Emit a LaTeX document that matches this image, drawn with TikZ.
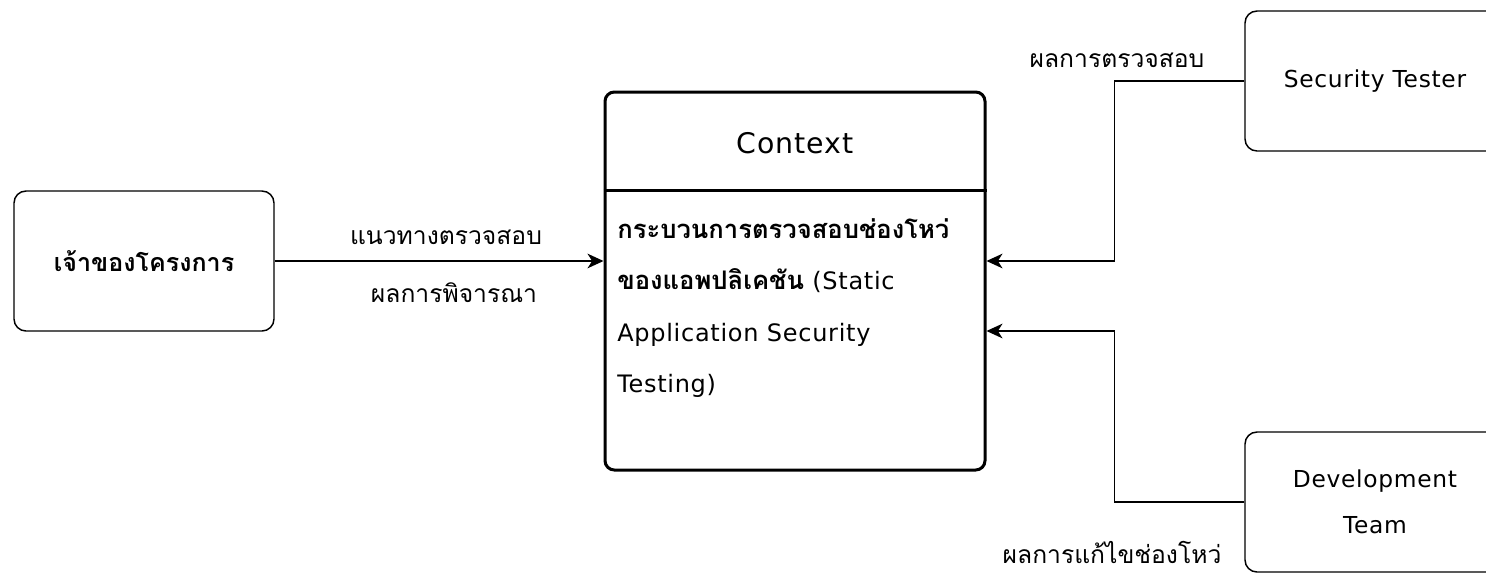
\documentclass[tikz,border=0pt]{standalone}
\usepackage{fontspec}
\setmainfont{DejaVu Sans}[LetterSpace=3]
\newfontfamily\thaifont[Script=Thai]{Loma}
\usetikzlibrary{arrows.meta,positioning}
\tikzstyle{arrow} = [line width=1.1pt,-{Stealth[length=12pt,width=11pt,inset=3.5pt]}]
\tikzstyle{actor} = [rectangle, draw, line width=1.1pt, rounded corners=9pt, minimum width=195pt, minimum height=105pt, align=center, font=\fontsize{17.5}{34.5}\selectfont]
\tikzstyle{flowlabel} = [font=\thaifont\fontsize{18.5}{22}\selectfont]

\begin{document}
\begin{tikzpicture}[x=0.75pt, y=-0.75pt]
\useasboundingbox (0,0) rectangle (1486,572);
\clip (0,0) rectangle (1486,572);
% External entities
\node[actor, font=\thaifont\bfseries\fontsize{18.8}{24}\selectfont] (owner) at (144,261) {เจ้าของโครงการ};
\node[actor] (tester) at (1375,81) {Security Tester};
\node[actor] (devteam) at (1375,502) {Development\\Team};

% Context box
\node[rectangle, draw, line width=2.25pt, rounded corners=7pt, minimum width=285pt, minimum height=283.5pt] (context) at (795,281) {};
\node[font=\fontsize{21.3}{26}\selectfont] (ctxtitle) at (795,143) {Context};
\draw[line width=2.25pt] (context.west |- 0,190) -- (context.east |- 0,190);
\node[anchor=north west, inner sep=0pt, align=left, font=\fontsize{18}{38.7}\selectfont] (ctxbody) at (617,218) {{\thaifont\bfseries\fontsize{19.2}{38.7}\selectfont กระบวนการตรวจสอบช่องโหว่}\\{\thaifont\bfseries\fontsize{19.2}{38.7}\selectfont ของแอพปลิเคชัน} (Static\\Application Security\\Testing)};

% Flows
\draw[arrow] (owner.east) -- (owner.east -| context.west);
\draw[arrow] (tester.west) -- ++(-130,0) |- (owner.east -| context.east);
\draw[arrow] (devteam.west) -- ++(-130,0) |- ([yshift=-37.5pt]context.east);

% Flow labels
\node[flowlabel] (lblguide) at (446,237) {แนวทางตรวจสอบ};
\node[flowlabel] (lblresult) at (454,293) {ผลการพิจารณา};
\node[flowlabel] (lbltest) at (1117,60) {ผลการตรวจสอบ};
\node[flowlabel] (lblfix) at (1112,552) {ผลการแก้ไขช่องโหว่};
\end{tikzpicture}
\end{document}
